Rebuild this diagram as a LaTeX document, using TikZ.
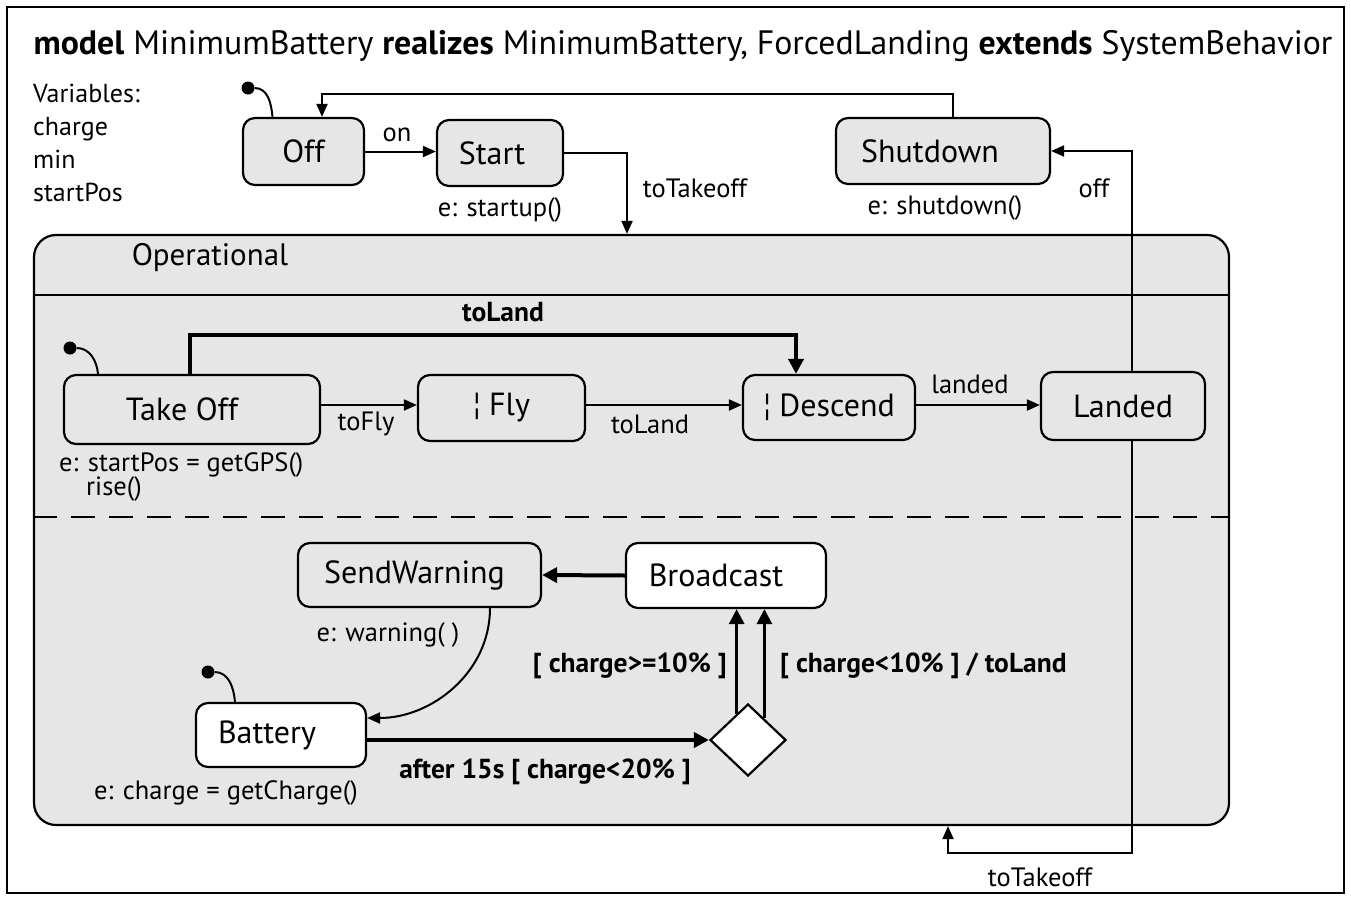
\documentclass[tikz,border=0pt]{standalone}
\usepackage{fontspec}
\setmainfont{PT Sans}
\usetikzlibrary{shapes.geometric,arrows.meta,calc}
\definecolor{gfill}{HTML}{E6E6E6}
\begin{document}
\begin{tikzpicture}[x=1pt,y=-1pt,
 st/.style={draw, line width=2.2pt, rounded corners=12pt, fill=gfill, inner sep=0pt, font=\fontsize{32}{34}\selectfont},
 wst/.style={st, fill=white},
 lbl/.style={font=\fontsize{26.5}{28}\selectfont, inner sep=0pt},
 blbl/.style={inner sep=0pt, font=\fontsize{27.5}{30}\selectfont\bfseries},
 tr/.style={line width=2pt, -{Triangle[length=13pt,width=11pt]}},
 btr/.style={line width=4pt, -{Triangle[length=15pt,width=15pt]}},
 ini/.style={circle, fill=black, inner sep=0pt, minimum size=13pt},
 inil/.style={line width=2pt},
]
\useasboundingbox (0,0) rectangle (1351,897);
\draw[line width=2.4pt] (7,7) rectangle (1344,893);

\node[font=\fontsize{33.8}{35}\selectfont] (title) at (683,46) {\textbf{model} MinimumBattery \textbf{realizes} MinimumBattery, ForcedLanding \textbf{extends} SystemBehavior};
\node[lbl, anchor=north west, align=left, font=\fontsize{26}{33}\selectfont] (vars) at (33,84) {Variables:\\charge\\min\\startPos};

% top states
\node[st, minimum width=121pt, minimum height=67pt] (off) at (303.5,151.5) {Off};
\node[st, minimum width=126pt, minimum height=66pt] (start) at (500,153) {\hspace*{-16pt}Start};
\node[st, minimum width=214pt, minimum height=66pt] (shut) at (943,151) {\hspace*{-26pt}Shutdown};
\node[lbl] (startupL) at (500,210) {e: startup()};
\node[lbl] (shutL) at (945,208) {e: shutdown()};

% operational container
\node[draw, line width=2.2pt, rounded corners=22pt, fill=gfill, minimum width=1195pt, minimum height=590pt, inner sep=0pt] (op) at (631.5,530) {};
\draw[line width=2.2pt] (op.west |- 0,295) coordinate (hl) -- (op.east |- hl);
\draw[line width=2.2pt, dash pattern=on 24pt off 14pt] (op.west |- 0,517) coordinate (dl) -- (op.east |- dl);
\node[font=\fontsize{31}{33}\selectfont, inner sep=0pt] (opL) at (210,258) {Operational};

% upper region
\node[st, minimum width=256pt, minimum height=69pt] (to) at (192,409.5) {\hspace*{-20pt}Take Off};
\node[st, minimum width=167pt, minimum height=66pt] (fly) at (501.5,408) {¦ Fly};
\node[st, minimum width=172pt, minimum height=65pt] (desc) at (829,407.5) {¦ Descend};
\node[st, minimum width=164pt, minimum height=68pt] (landed) at (1123,406) {Landed};
\node[lbl, anchor=west] (toE1) at (59,465) {e: startPos = getGPS()};
\node[lbl, anchor=west] (toE2) at (86,489) {rise()};

% lower region
\node[st, minimum width=243pt, minimum height=64pt] (sw) at (419.5,575) {\hspace*{-10pt}SendWarning};
\node[wst, minimum width=200pt, minimum height=65pt] (bc) at (726,575.5) {\hspace*{-20pt}Broadcast};
\node[wst, minimum width=170pt, minimum height=64pt] (bat) at (281,735) {\hspace*{-28pt}Battery};
\node[draw, line width=2.2pt, fill=white, diamond, minimum width=76pt, minimum height=72pt, inner sep=0pt] (dia) at (748,740) {};
\node[lbl] (swE) at (388,635) {e: warning( )};
\node[lbl] (batE) at (226,793) {e: charge = getCharge()};

% initial pseudostates
\node[ini] (i1) at (248,88) {};
\draw[inil] (i1) to[out=0,in=95] ([xshift=-31pt]off.north);
\node[ini] (i2) at (70,348) {};
\draw[inil] (i2) to[out=0,in=95] ([xshift=-94pt]to.north);
\node[ini] (i3) at (208,672) {};
\draw[inil] (i3) to[out=0,in=95] ([xshift=-46pt]bat.north);

% top transitions
\draw[tr] (off.east) -- (start.west |- off.east);
\node[lbl] (onL) at (397,135) {on};
\draw[tr] (start.east) -| ([xshift=-4.5pt]op.north);
\node[lbl] (ttL) at (695,188) {toTakeoff};
\draw[tr] ([xshift=10pt]shut.north) -- ++(0,-23) -| ([xshift=18.5pt]off.north);
\draw[tr] ([xshift=9pt]landed.north) |- (shut.east);
\node[lbl] (offL) at (1094,188) {off};
\coordinate (tt2) at (948,853);
\draw[tr] ([xshift=9pt]landed.south) |- (tt2) -- (tt2 |- op.south);
\node[lbl] (tt2L) at (1040,877) {toTakeoff};

% upper region transitions
\draw[tr] (to.east |- 0,405) coordinate (a1) -- (fly.west |- a1);
\node[lbl] (toFlyL) at (366,424) {toFly};
\draw[tr] (fly.east |- 0,405) coordinate (a2) -- (desc.west |- a2);
\node[lbl] (toLandL) at (650,424) {toLand};
\draw[tr] (desc.east |- 0,405) coordinate (a3) -- (landed.west |- a3);
\node[lbl] (landedL) at (970,384) {landed};
\draw[btr] ([xshift=-2pt]to.north) -- ++(0,-39) -| ([xshift=-33pt]desc.north);
\node[blbl] (toLandB) at (503,312) {toLand};

% lower region transitions
\draw[btr] (bc.west) -- (sw.east);
\draw[tr] ([xshift=70.5pt]sw.south) to[out=-90,in=0] ([yshift=17pt]bat.east);
\draw[btr] (bat.east |- dia.west) -- (dia.west);
\node[blbl] (afterL) at (545,772) {after 15s [ charge<20\% ]};
\coordinate (d1) at ($(dia.north)!0.29!(dia.west)$);
\coordinate (d2) at ($(dia.north)!0.42!(dia.east)$);
\draw[btr, line width=3pt] (d1) -- (d1 |- bc.south);
\draw[btr, line width=3pt] (d2) -- (d2 |- bc.south);
\node[blbl, anchor=east] (geL) at (727,666) {[ charge>=10\% ]};
\node[blbl, anchor=west] (ltL) at (780,666) {[ charge<10\% ] / toLand};
\end{tikzpicture}
\end{document}
